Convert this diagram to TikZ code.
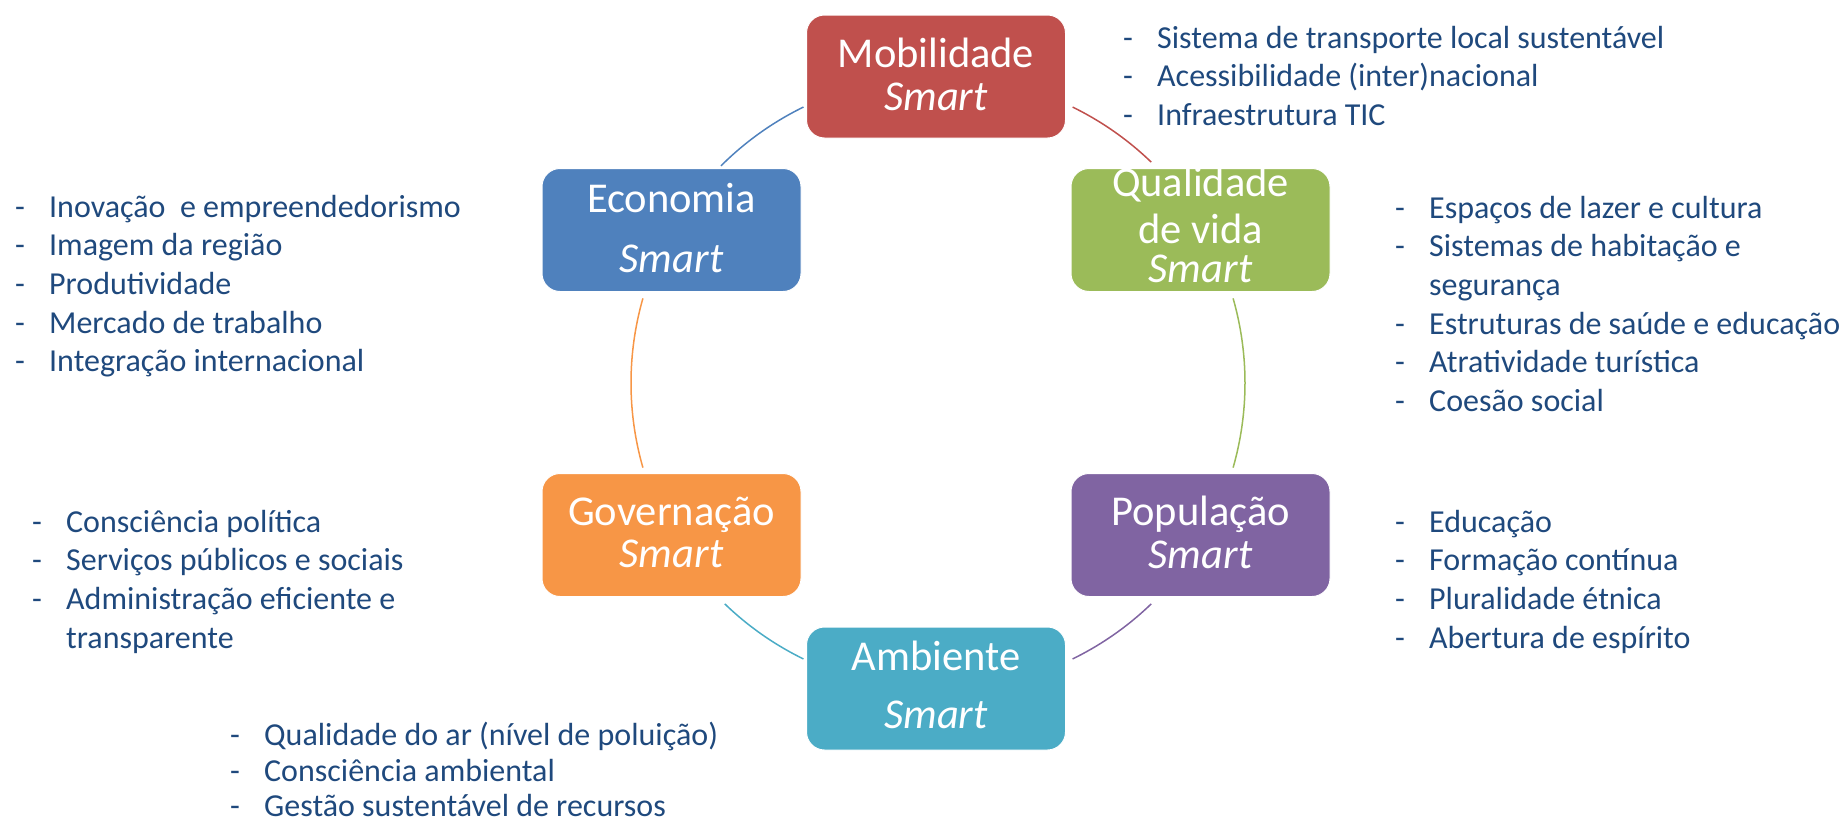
\documentclass[tikz,border=0pt]{standalone}
\usepackage{fontspec}
\setmainfont{Carlito}
\usetikzlibrary{calc}
\definecolor{cRed}{HTML}{C0504D}
\definecolor{cBlue}{HTML}{4F81BD}
\definecolor{cGreen}{HTML}{9BBB59}
\definecolor{cOrange}{HTML}{F79646}
\definecolor{cPurple}{HTML}{8064A2}
\definecolor{cText}{HTML}{1F497D}
\definecolor{cTeal}{HTML}{4BACC6}
\newcommand{\itm}[1]{\makebox[34pt][l]{-}#1}
\newcommand{\cont}[1]{\hspace*{34pt}#1}
\begin{document}
\begin{tikzpicture}[x=1pt,y=1pt,
  box/.style={rounded corners=18pt, minimum width=259pt, minimum height=123pt, draw=white, line width=1pt, inner sep=0pt},
  lbl/.style={anchor=base, text=white, inner sep=0pt, font=\fontsize{42.5}{46}\selectfont},
  slbl/.style={anchor=base, text=white, inner sep=0pt, font=\fontsize{42.5}{46}\selectfont\itshape},
  lst/.style={anchor=base west, inner sep=0pt, text=cText, font=\fontsize{32}{38.7}\selectfont},
  arcline/.style={line width=1.5pt}]
\path[use as bounding box] (0,0) rectangle (1845,-825);

% boxes
\node[box, fill=cRed]    (mob) at (936,-76.5) {};
\node[box, fill=cBlue]   (eco) at (671.5,-230) {};
\node[box, fill=cGreen]  (qual) at (1200.5,-230) {};
\node[box, fill=cOrange] (gov) at (671.5,-535) {};
\node[box, fill=cPurple] (pop) at (1200.5,-535) {};
\node[box, fill=cTeal]   (amb) at (936,-688.5) {};

% labels
\node[lbl]  (mobT) at (936,-67) {Mobilidade};
\node[slbl] (mobS) at (936,-110) {Smart};
\node[lbl]  (ecoT) at (671.5,-212) {Economia};
\node[slbl] (ecoS) at (671.5,-272) {Smart};
\node[lbl]  (qualT) at (1200.5,-196) {Qualidade};
\node[lbl]  (qualV) at (1200.5,-243) {de vida};
\node[slbl] (qualS) at (1200.5,-282) {Smart};
\node[lbl]  (govT) at (671.5,-525) {Governação};
\node[slbl] (govS) at (671.5,-567) {Smart};
\node[lbl]  (popT) at (1200.5,-525) {População};
\node[slbl] (popS) at (1200.5,-568) {Smart};
\node[lbl]  (ambT) at (936,-670) {Ambiente};
\node[slbl] (ambS) at (936,-728) {Smart};

% cycle arcs
\coordinate (c) at (938,-383);
\coordinate (mobEcoA) at ([shift={(116:307)}]c);
\coordinate (mobQualA) at ([shift={(64:307)}]c);
\coordinate (ecoGovA) at ([shift={(164:307)}]c);
\coordinate (qualPopA) at ([shift={(16:307)}]c);
\coordinate (govAmbA) at ([shift={(226:307)}]c);
\coordinate (popAmbA) at ([shift={(-46:307)}]c);
\draw[arcline, cBlue]   (mobEcoA) arc[start angle=116, end angle=135, radius=307];
\draw[arcline, cRed]    (mobQualA) arc[start angle=64, end angle=46, radius=307];
\draw[arcline, cOrange] (ecoGovA) arc[start angle=164, end angle=196, radius=307];
\draw[arcline, cGreen]  (qualPopA) arc[start angle=16, end angle=-16, radius=307];
\draw[arcline, cTeal]   (govAmbA) arc[start angle=226, end angle=244, radius=307];
\draw[arcline, cPurple] (popAmbA) arc[start angle=-46, end angle=-64, radius=307];

% lists
\node[lst] (mobL) at (1123,-48) {\begin{tabular}[t]{@{}l@{}}
\itm{Sistema de transporte local sustentável}\\
\itm{Acessibilidade (inter)nacional}\\
\itm{Infraestrutura TIC}
\end{tabular}};
\node[lst] (ecoL) at (15,-217) {\begin{tabular}[t]{@{}l@{}}
\itm{Inovação~ e empreendedorismo}\\
\itm{Imagem da região}\\
\itm{Produtividade}\\
\itm{Mercado de trabalho}\\
\itm{Integração internacional}
\end{tabular}};
\node[lst] (qualL) at (1395,-218) {\begin{tabular}[t]{@{}l@{}}
\itm{Espaços de lazer e cultura}\\
\itm{Sistemas de habitação e}\\
\cont{segurança}\\
\itm{Estruturas de saúde e educação}\\
\itm{Atratividade turística}\\
\itm{Coesão social}
\end{tabular}};
\node[lst] (govL) at (32,-532) {\begin{tabular}[t]{@{}l@{}}
\itm{Consciência política}\\
\itm{Serviços públicos e sociais}\\
\itm{Administração eficiente e}\\
\cont{transparente}
\end{tabular}};
\node[lst] (popL) at (1395,-532) {\begin{tabular}[t]{@{}l@{}}
\itm{Educação}\\
\itm{Formação contínua}\\
\itm{Pluralidade étnica}\\
\itm{Abertura de espírito}
\end{tabular}};
\node[lst] (ambL1) at (230,-745) {\itm{Qualidade do ar (nível de poluição)}};
\node[lst] (ambL2) at (230,-781) {\itm{Consciência ambiental}};
\node[lst] (ambL3) at (230,-816) {\itm{Gestão sustentável de recursos}};
\end{tikzpicture}
\end{document}
